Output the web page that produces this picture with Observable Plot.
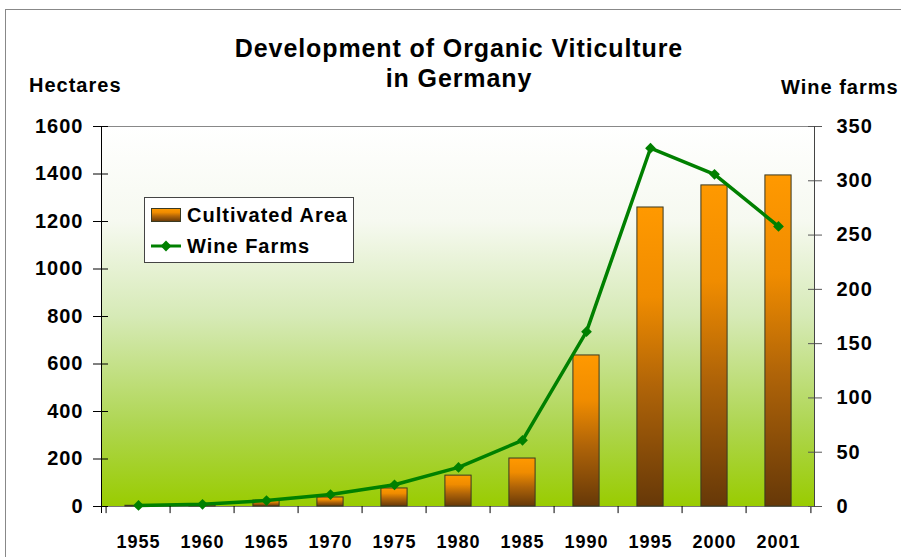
<!DOCTYPE html>
<html><head><meta charset="utf-8">
<script src="https://cdn.jsdelivr.net/npm/d3@7"></script>
<script src="https://cdn.jsdelivr.net/npm/@observablehq/plot@0.6"></script>
<style>
body{margin:0;background:#fff;}
#chart svg{display:block;}
#chart svg text{letter-spacing:1px;}
</style>
</head><body><div id="chart"></div>
<script>
const years = ["1955","1960","1965","1970","1975","1980","1985","1990","1995","2000","2001"];
const area = [3, 8, 25, 38, 76, 130, 202, 636, 1259, 1352, 1394];
const farms = [1, 2, 5.5, 11, 20, 36, 61, 161, 330, 306, 258];
const leftTicks = [0, 200, 400, 600, 800, 1000, 1200, 1400, 1600];
const rightTicks = [0, 50, 100, 150, 200, 250, 300, 350];
const titleLines = ["Development of Organic Viticulture", "in Germany"];
const leftLabel = "Hectares";
const rightLabel = "Wine farms";
const seriesNames = ["Cultivated Area", "Wine Farms"];

const k = 1600 / 350;
const data = years.map((y, i) => ({year: y, area: area[i], farms: farms[i], fy: farms[i] * k}));

const W = 901, H = 557, mL = 101, mR = 87, mT = 126, mB = 51;
const bw = (W - mL - mR) / years.length;

const chart = Plot.plot({
  width: W, height: H,
  marginLeft: mL, marginRight: mR, marginTop: mT, marginBottom: mB,
  style: {fontFamily: "'Liberation Sans', Arial, sans-serif", fontSize: "20px", fontWeight: "bold", color: "#000", background: "transparent", overflow: "visible"},
  x: {domain: years, padding: 0, label: null},
  y: {domain: [0, 1600], label: null},
  marks: [
    Plot.frame({fill: "url(#bgGrad)", stroke: null}),
    Plot.frame({anchor: "top", stroke: "#888"}),
    Plot.frame({anchor: "bottom", stroke: "#777"}),
    Plot.barY(data, {x: "year", y: "area", fill: "url(#barGrad)", stroke: "#3a3a22", strokeWidth: 1, insetLeft: (bw - 27) / 2, insetRight: (bw - 27) / 2}),
    Plot.line(data, {x: "year", y: "fy", stroke: "#008000", strokeWidth: 3.5}),
    Plot.dot(data, {x: "year", y: "fy", symbol: "square", rotate: 45, r: 4.3, fill: "#008000", stroke: null}),
    Plot.ruleX(years, {x: d => d, y1: 0, y2: -30, dx: -bw / 2, stroke: "#000"}),
    Plot.ruleX([years[years.length - 1]], {x: d => d, y1: 0, y2: -30, dx: bw / 2, stroke: "#000"}),
    Plot.axisX({tickSize: 0, tickPadding: 29, fontSize: 18, label: null}),
    Plot.axisY({anchor: "left", ticks: leftTicks, tickSize: 15, dx: 7, tickPadding: 10, label: null, tickFormat: d => String(d)}),
    Plot.axisY({anchor: "right", ticks: rightTicks.map(v => v * k), tickSize: 14, dx: -7, tickPadding: 15, label: null, tickFormat: d => String(Math.round(d / k)), stroke: "#555"}),
    Plot.frame({anchor: "left", stroke: "#000"}),
    Plot.frame({anchor: "right", stroke: "#444"})
  ]
});

const svg = d3.select(chart);
const defs = svg.insert("defs", ":first-child");
const bg = defs.append("linearGradient").attr("id", "bgGrad").attr("x1", 0).attr("y1", 0).attr("x2", 0).attr("y2", 1);
[[0, "#ffffff"], [0.25, "#f6f9f0"], [0.5, "#d6eab6"], [0.78, "#afd653"], [1, "#99cc00"]].forEach(([o, c]) => bg.append("stop").attr("offset", o).attr("stop-color", c));
const bar = defs.append("linearGradient").attr("id", "barGrad").attr("x1", 0).attr("y1", 0).attr("x2", 0).attr("y2", 1);
[[0, "#ff9900"], [0.3, "#f08c00"], [0.6, "#b06408"], [1, "#663808"]].forEach(([o, c]) => bar.append("stop").attr("offset", o).attr("stop-color", c));

// left axis line extension below zero
svg.append("line").attr("x1", mL + 0.5).attr("x2", mL + 0.5).attr("y1", H - mB).attr("y2", H - mB + 7).attr("stroke", "#000");

// outer frame
svg.append("rect").attr("x", 5.5).attr("y", 9.5).attr("width", W).attr("height", H).attr("fill", "none").attr("stroke", "#888");

// title and axis labels
const T = svg.append("g").attr("font-weight", "bold").attr("fill", "#000").attr("text-anchor", "start");
T.append("text").attr("x", 459).attr("y", 57).attr("text-anchor", "middle").attr("font-size", 25).style("letter-spacing", "0.9px").text(titleLines[0]);
T.append("text").attr("x", 459).attr("y", 87).attr("text-anchor", "middle").attr("font-size", 25).style("letter-spacing", "0.9px").text(titleLines[1]);
T.append("text").attr("x", 29).attr("y", 92).attr("font-size", 20).text(leftLabel);
T.append("text").attr("x", 781).attr("y", 94).attr("font-size", 20).text(rightLabel);

// legend
const L = svg.append("g").attr("text-anchor", "start");
L.append("rect").attr("x", 144.5).attr("y", 197.5).attr("width", 209).attr("height", 65).attr("fill", "#fff").attr("stroke", "#444");
L.append("rect").attr("x", 151.5).attr("y", 208.5).attr("width", 29).attr("height", 13).attr("fill", "url(#barGrad)").attr("stroke", "#3a3a22");
L.append("text").attr("x", 187).attr("y", 222).attr("font-size", 20).attr("font-weight", "bold").text(seriesNames[0]);
L.append("line").attr("x1", 151).attr("x2", 181).attr("y1", 246).attr("y2", 246).attr("stroke", "#008000").attr("stroke-width", 3);
L.append("path").attr("d", d3.symbol(d3.symbolSquare, Math.PI * 4.3 * 4.3)()).attr("transform", "translate(166,246) rotate(45)").attr("fill", "#008000");
L.append("text").attr("x", 187).attr("y", 253).attr("font-size", 20).attr("font-weight", "bold").text(seriesNames[1]);

document.getElementById("chart").appendChild(chart);
</script>
</body></html>
